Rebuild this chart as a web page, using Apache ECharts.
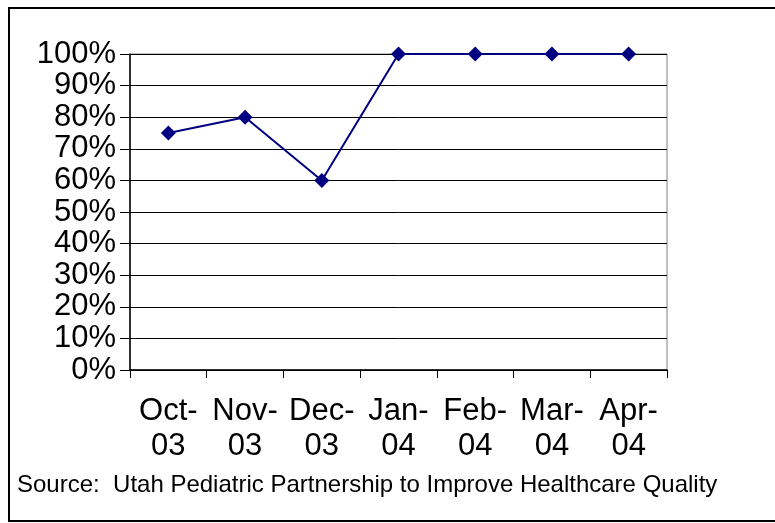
<!DOCTYPE html>
<html>
<head>
<meta charset="utf-8">
<script src="https://cdn.jsdelivr.net/npm/echarts@6/dist/echarts.min.js"></script>
<style>
  html, body { margin: 0; padding: 0; background: #fff; }
  #chart { width: 775px; height: 523px; }
</style>
</head>
<body>
<div id="chart"></div>
<script>
// Share of patients meeting the measure, by month
const months = ['Oct-\n03', 'Nov-\n03', 'Dec-\n03', 'Jan-\n04', 'Feb-\n04', 'Mar-\n04', 'Apr-\n04'];
const rates = [75, 80, 60, 100, 100, 100, 100];
const sourceNote = 'Source:  Utah Pediatric Partnership to Improve Healthcare Quality';

const FONT = '"Liberation Sans", Arial, sans-serif';
const chart = echarts.init(document.getElementById('chart'), null, { renderer: 'canvas' });

chart.setOption({
  animation: false,
  backgroundColor: '#fff',
  grid: {
    left: 130, right: 108, top: 54, bottom: 153,
    show: true, borderColor: '#808080', borderWidth: 1, backgroundColor: 'transparent'
  },
  xAxis: {
    type: 'category',
    data: months,
    boundaryGap: true,
    axisLine: { lineStyle: { color: '#000', width: 1.5 } },
    axisTick: { show: true, length: 8, lineStyle: { color: '#000' } },
    axisLabel: {
      color: '#000', fontFamily: FONT, fontSize: 31, lineHeight: 35,
      margin: 24, interval: 0
    },
    splitLine: { show: false }
  },
  yAxis: {
    type: 'value',
    min: 0, max: 100, interval: 10,
    axisLine: { show: true, lineStyle: { color: '#000', width: 1.5 } },
    axisTick: { show: true, length: 10, lineStyle: { color: '#000' } },
    axisLabel: {
      color: '#000', fontFamily: FONT, fontSize: 31, margin: 14,
      showMinLabel: true, showMaxLabel: true, hideOverlap: false,
      formatter: v => v + '%'
    },
    splitLine: { show: true, lineStyle: { color: '#000', width: 1 } }
  },
  series: [{
    type: 'line',
    data: rates,
    symbol: 'diamond',
    symbolSize: 15,
    itemStyle: { color: '#000080' },
    lineStyle: { color: '#000080', width: 2 }
  }],
  graphic: [
    {
      type: 'rect',
      shape: { x: 9, y: 8, width: 800, height: 513 },
      style: { fill: null, stroke: '#000', lineWidth: 2 },
      silent: true
    },
    {
      type: 'text',
      left: 17, top: 473,
      style: { text: sourceNote, font: '24px ' + FONT, fill: '#000' }
    }
  ]
});
</script>
</body>
</html>
